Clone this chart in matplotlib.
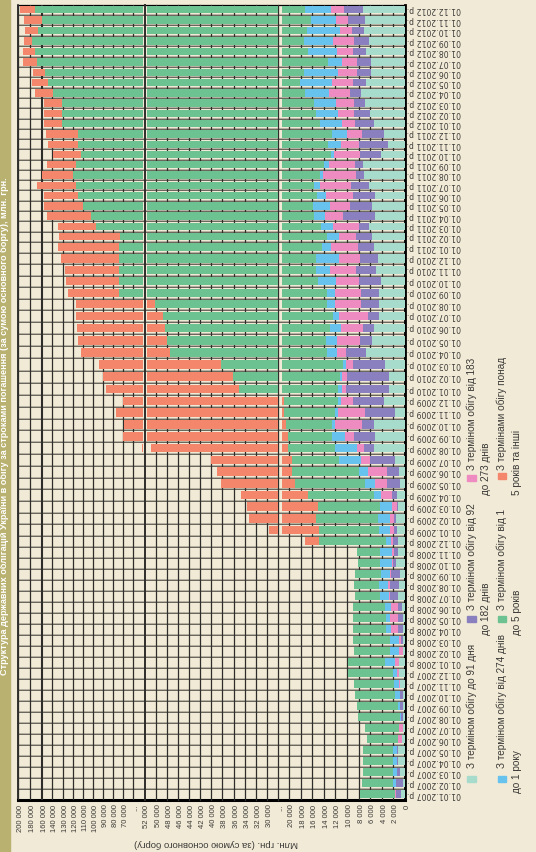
import numpy as np
import matplotlib
matplotlib.use("Agg")
import matplotlib.pyplot as plt
import matplotlib.transforms as mtransforms
from matplotlib.patches import Rectangle

W, H, DPI = 536, 852, 100
BG = '#f1ead7'
STRIP = '#b9b16f'
INK = '#3b3a37'
GRID = '#2e2d2a'
COLORS = ['#a7dccd', '#8a80bf', '#ee8bc0', '#67c2ee', '#6dc291', '#f4866b']

# --- data: mln UAH, 01.01.2007 .. 01.12.2012 (monthly) ---
years = [2007, 2008, 2009, 2010, 2011, 2012]
dates = [f'01.{m:02d}.{y} р.' for y in years for m in range(1, 13)]

d91 = [640, 290, 810, 1150, 1150, 460, 290, 290, 290, 290, 810, 980,
       980, 290, 290, 290, 290, 460, 1150, 980, 810, 1500, 1150, 1150,
       1330, 1500, 1150, 1330, 810, 980, 1670, 5310, 5130, 5310, 1670, 3580,
       2710, 2710, 3400, 6690, 5650, 5310, 4440, 4440, 4440, 4100, 4960, 4620,
       5310, 5650, 6170, 5130, 5650, 5130, 6170, 7040, 7210, 4100, 2890, 3580,
       5310, 6000, 6870, 7560, 6690, 5830, 5830, 6690, 6170, 7040, 6870, 7270]
d182 = [870, 1210, 520, 170, 170, 0, 0, 400, 520, 520, 0, 0,
        0, 0, 350, 870, 870, 690, 1380, 1560, 1560, 580, 690, 870,
        520, 350, 170, 870, 2250, 2080, 4330, 1730, 3640, 2080, 5190, 5370,
        7440, 7270, 5540, 3460, 2080, 1900, 1900, 3120, 3120, 3810, 3460, 3120,
        2770, 2770, 1730, 5540, 3810, 3810, 3120, 1390, 1390, 3630, 4960, 3810,
        3230, 2770, 1900, 1900, 2250, 2420, 2420, 2250, 2600, 2080, 2940, 3170]
d273 = [170, 0, 0, 0, 0, 690, 690, 0, 0, 0, 170, 350,
        690, 690, 350, 1210, 1380, 1210, 170, 350, 170, 120, 350, 350,
        690, 690, 870, 1900, 2080, 3290, 1560, 1210, 1560, 4670, 4670, 2080,
        690, 870, 1210, 1560, 3980, 3810, 5020, 4500, 4500, 3980, 4500, 3640,
        4670, 2940, 4500, 3120, 3460, 4670, 5370, 5650, 4440, 4500, 3120, 2540,
        2310, 2770, 3120, 3580, 3630, 3290, 2600, 2710, 3580, 2080, 2080, 2310]
y1 = [0, 520, 690, 690, 690, 0, 0, 120, 350, 870, 870, 690,
      1730, 1560, 1560, 870, 690, 1040, 1560, 1560, 1560, 2080, 2080, 870,
      1900, 2080, 2080, 1210, 1730, 1560, 3810, 3810, 2250, 520, 520, 520,
      690, 350, 520, 1730, 1900, 1900, 1040, 1390, 1390, 3120, 2420, 3980,
      1560, 2080, 2080, 1900, 2940, 1560, 1040, 580, 920, 460, 2310, 2650,
      3810, 3810, 3810, 4210, 5540, 5880, 2420, 5080, 5080, 5650, 4330, 4500]
y5 = [6060, 5370, 5190, 5190, 5190, 5370, 5880, 7330, 7100, 6920, 6920, 7790,
      6400, 6230, 6400, 5710, 5710, 5540, 4330, 4330, 4500, 3810, 3980, 11600,
      10380, 10730, 10730, 11420, 12120, 11600, 8130, 8250, 7730, 7960, 8830, 9350,
      23490, 24860, 27590, 33980, 34290, 35400, 36220, 36670, 60530, 59300, 58950, 58950,
      59990, 59860, 83150, 86610, 94770, 100460, 101940, 105940, 103670, 99610, 102360, 103050,
      116340, 115640, 115300, 122400, 129590, 136750, 155620, 154940, 159800, 150380, 144350, 154420]
y5plus = [0, 0, 0, 0, 0, 0, 0, 0, 0, 0, 0, 0,
          0, 0, 0, 0, 0, 0, 0, 0, 0, 0, 0, 2420,
          14820, 17890, 18650, 17940, 19340, 19420, 20560, 30590, 49660, 48760, 56420, 49090,
          52270, 53920, 55710, 65210, 67070, 67650, 68680, 67180, 51290, 52210, 53150, 57530,
          60540, 60260, 36570, 48340, 45200, 40200, 51260, 38770, 33010, 26710, 32080, 36950,
          24840, 24220, 24220, 32020, 28400, 21380, 23640, 20860, 13030, 21330, 29700, 25430]
series = [d91, d182, d273, y1, y5, y5plus]

plt.rcParams['font.family'] = ['Liberation Sans', 'DejaVu Sans']
fig = plt.figure(figsize=(W / DPI, H / DPI), dpi=DPI, facecolor=BG)


def px(x):
    return x / W


def py(y):
    return 1 - y / H


PLOT_T, PLOT_B = 4.5, 799.5


def panel(x0, x1):
    return fig.add_axes([px(x0), py(PLOT_B), px(x1) - px(x0), py(PLOT_T) - py(PLOT_B)])


# rows are not evenly spaced in the source image -> piecewise scale
ROW_IDX = [-0.5, 0, 12, 24, 30, 36, 42, 48, 54, 60, 66, 71, 71.5]
ROW_PIX = np.array([799.5, 794, 662.3, 530, 460, 389, 315.7, 247, 185.2, 123.7, 62, 9.7, 4.5])


def y_fwd(i):
    return np.interp(i, ROW_IDX, -ROW_PIX)


def y_inv(t):
    return np.interp(t, -ROW_PIX, ROW_IDX)


# left (broken) value axis: uneven steps like the source
L_VAL = np.array([50000, 60000, 70000, 80000, 90000, 100000, 110000, 120000,
                  130000, 140000, 160000, 180000, 200000])
L_PIX = np.array([143.3, 133.3, 123.3, 113.3, 103.3, 93.3, 83.3, 73.3,
                  62.7, 52.3, 42, 30, 18.3])


def l_fwd(v):
    return -np.interp(v, L_VAL, L_PIX)


def l_inv(t):
    return np.interp(-t, L_PIX[::-1], L_VAL[::-1])


idx = np.arange(len(dates))

# background grid (row separators)
bg = panel(18.3, 404.7)
bg.set_facecolor(BG)
bg.set_yscale('function', functions=(y_fwd, y_inv))
bg.set_ylim(-0.5, len(dates) - 0.5)
bg.set_xlim(0, 1)
bg.set_xticks([])
bg.set_yticks([])
for b in idx[:-1] + 0.5:
    bg.axhline(b, color='#b1ab9c', lw=1.3, zorder=0)
    bg.axhline(b, color='#3d3b37', lw=0.45, zorder=0)
for s, lw in [('bottom', 2.2), ('right', 2.0), ('top', 0.9), ('left', 1.1)]:
    bg.spines[s].set_linewidth(lw)
    bg.spines[s].set_color('black')

K_M = 22000 / 122.5
axL = panel(18.3, 143)
axM = panel(147, 277.5)
axR = panel(282, 404.7)
axL.set_xscale('function', functions=(l_fwd, l_inv))
axL.set_xlim(200000, float(l_inv(-143)))
axM.set_xlim(52000 - (147 - 144.5) * K_M, 30000 - (277.5 - 267) * K_M)
M_GAP = 30000 - (278 - 267) * K_M
axR.set_xlim(20000 * (404.7 - 282) / (404.7 - 289.3), 0)

for ax in (axL, axM, axR):
    ax.patch.set_visible(False)
    ax.set_yscale('function', functions=(y_fwd, y_inv))
    ax.set_ylim(-0.5, len(dates) - 0.5)
    for s in ax.spines.values():
        s.set_visible(False)
    ax.set_xticks([])
    ax.set_yticks([])

L_TICKS = [200000, 180000, 160000, 140000, 130000, 120000, 110000, 100000, 90000, 80000, 70000]
M_TICKS = list(range(52000, 29999, -2000))
R_TICKS = list(range(20000, -1, -2000))

for v in L_TICKS + [60000]:
    axL.axvline(v, color=GRID, lw=1.5 if v == 160000 else 0.9, zorder=1)
for v in M_TICKS + [M_GAP]:
    axM.axvline(v, color=GRID, lw=1.4 if v == 52000 else 0.9, zorder=1, clip_on=False)
for v in R_TICKS[:-1]:
    axR.axvline(v, color=GRID, lw=0.9, zorder=1)

# stacked bars, drawn in every panel and clipped by its limits
left = np.zeros(len(dates))
for vals, c in zip(series, COLORS):
    vals = np.asarray(vals, float)
    for ax in (axL, axM, axR):
        ax.barh(idx, vals, left=left, height=0.72, color=c, linewidth=0, zorder=2)
    left += vals


def tick_labels(ax, ticks, labels):
    tr = mtransforms.blended_transform_factory(ax.transData, fig.transFigure)
    tr = mtransforms.offset_copy(tr, fig=fig, x=2.5, y=0, units='dots')
    for v, lab in zip(ticks, labels):
        ax.text(v, py(804.5), lab, transform=tr, rotation=90, ha='center', va='top',
                fontsize=5.5, color=INK, clip_on=False)


def fmt(v):
    return f'{v:,}'.replace(',', ' ')


tick_labels(axL, L_TICKS + [60000], [fmt(v) for v in L_TICKS] + ['...'])
tick_labels(axM, M_TICKS + [M_GAP], [fmt(v) for v in M_TICKS] + ['...'])
tick_labels(axR, R_TICKS, [fmt(v) for v in R_TICKS])

# date labels (upside down, as in the source)
axR.yaxis.tick_right()
axR.set_yticks(idx)
axR.set_yticklabels(dates)
axR.tick_params(axis='y', length=0, pad=1.5, labelsize=5.6, labelcolor=INK)
for lab in axR.get_yticklabels():
    lab.set_rotation(180)
    lab.set_va('center')
    lab.set_family('DejaVu Sans')

fig.text(px(216), py(843.5), 'Млн. грн. (за сумою основного боргу)', rotation=180,
         ha='center', va='center', fontsize=6.8, color=INK)

# legend, rotated like the rest of the page
LEG = [
    (0, 471.5, 778.5, 768, ['З терміном обігу до 91 дня']),
    (1, 471.5, 619, 610, ['З терміном обігу від 92', 'до 182 днів']),
    (2, 471.5, 478, 470, ['З терміном обігу від 183', 'до 273 днів']),
    (3, 502, 778.5, 768, ['З терміном обігу від 274 днів', 'до 1 року']),
    (4, 502, 619, 610, ['З терміном обігу від 1', 'до 5 років']),
    (5, 502, 476, 470, ['З термінами обігу понад', '5 років та інші']),
]
for si, x, ypatch, ytext, lines in LEG:
    fig.patches.append(Rectangle((px(x - 4.3), py(ypatch + 3)), 8.6 / W, 6 / H,
                                 transform=fig.transFigure, color=COLORS[si]))
    for j, line in enumerate(lines):
        fig.text(px(x + 14.5 * j), py(ytext + 25 * j), line, rotation=90,
                 rotation_mode='anchor', ha='left', va='center', fontsize=7.2, color=INK)

# title strip on the left edge
fig.patches.append(Rectangle((0, 0), px(9.5), 1, transform=fig.transFigure, color=STRIP))
fig.text(px(4.9), 0.5,
         'Структура державних облігацій України в обігу за строками погашення '
         '(за сумою основного боргу), млн. грн.',
         rotation=90, ha='center', va='center', fontsize=6.6, color='white', weight='bold')

fig.savefig('out.png', dpi=DPI, facecolor=BG)
